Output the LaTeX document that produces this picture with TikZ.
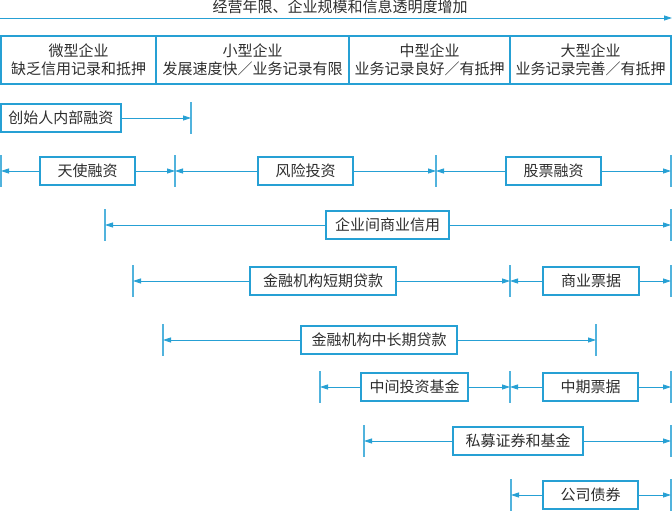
\documentclass[tikz,border=0pt]{standalone}
\usepackage{fontspec}
\setmainfont{Noto Sans CJK SC}
\usepackage{tikz}
\usetikzlibrary{positioning}
\usetikzlibrary{arrows.meta}
\definecolor{lineblue}{RGB}{38,160,212}
\definecolor{txtgray}{RGB}{45,45,45}
\tikzset{box/.style = {draw=lineblue, line width=1.4pt, minimum height=28pt,
                       inner sep=0pt, text=txtgray}}
\tikzset{stage/.style = {draw=lineblue, line width=1.4pt, minimum height=48pt,
                         inner sep=0pt, align=center, text=txtgray}}
\tikzset{rng/.style = {draw=lineblue, line width=0.8pt,
                       -{Triangle[length=8pt,width=5pt]}}}
\tikzset{tick/.style = {draw=lineblue!80, line width=1.1pt}}
\begin{document}
\begin{tikzpicture}[x=1pt, y=-1pt, font=\fontsize{15}{18}\selectfont]
  \useasboundingbox (0,0) rectangle (672,511);
  % headline
  \node[text=txtgray] (title) at (340,7) {经营年限、企业规模和信息透明度增加};
  \coordinate (t0) at (0,18);
  \coordinate (t1) at (672,18);
  \draw[rng] (t0) -- (t1);

  % enterprise stages
  \node[stage, minimum width=155pt] (micro) at (78.5,60)
    {微型企业\\缺乏信用记录和抵押};
  \node[stage, minimum width=193pt] (small) at (252.5,60)
    {小型企业\\发展速度快／业务记录有限};
  \node[stage, minimum width=161pt] (medium) at (429.5,60)
    {中型企业\\业务记录良好／有抵押};
  \node[stage, minimum width=161pt] (large) at (590.5,60)
    {大型企业\\业务记录完善／有抵押};

  % boxes
  \node[box, minimum width=120pt] (founder) at (61,118) {创始人内部融资};
  \node[box, minimum width=95pt] (angel) at (87.5,171) {天使融资};
  \node[box, minimum width=95pt] (venture) at (305.5,171) {风险投资};
  \node[box, minimum width=95pt] (equity) at (553.5,171) {股票融资};
  \node[box, minimum width=123pt] (trade) at (387.5,225) {企业间商业信用};
  \node[box, minimum width=146pt] (shortloan) at (323,281) {金融机构短期贷款};
  \node[box, minimum width=96pt] (commpaper) at (591,281) {商业票据};
  \node[box, minimum width=156pt] (longloan) at (379,340) {金融机构中长期贷款};
  \node[box, minimum width=107pt] (mezz) at (414.5,387) {中间投资基金};
  \node[box, minimum width=95pt] (mtn) at (590.5,387) {中期票据};
  \node[box, minimum width=130pt] (private) at (518,441) {私募证券和基金};
  \node[box, minimum width=95pt] (bonds) at (590.5,495) {公司债券};

  % range ends
  \coordinate (f1) at (191,118);
  \coordinate (a0) at (1,171);
  \coordinate (a1) at (175,171);
  \coordinate (a2) at (436,171);
  \coordinate (a3) at (671,171);
  \coordinate (c0) at (105,225);
  \coordinate (c1) at (671,225);
  \coordinate (s0) at (133,281);
  \coordinate (s1) at (510,281);
  \coordinate (s2) at (671,281);
  \coordinate (l0) at (163,340);
  \coordinate (l1) at (596,340);
  \coordinate (m0) at (320,387);
  \coordinate (m1) at (510,387);
  \coordinate (m2) at (671,387);
  \coordinate (p0) at (364,441);
  \coordinate (p1) at (671,441);
  \coordinate (b0) at (511,495);
  \coordinate (b1) at (671,495);

  \foreach \p in {f1,a0,a1,a2,a3,c0,c1,s0,s1,s2,l0,l1,m0,m1,m2,p0,p1,b0,b1}
    \draw[tick] ([yshift=16pt]\p) -- ([yshift=-16pt]\p);

  % arrows
  \draw[rng] (founder) -- (f1);
  \draw[rng] (angel) -- (a0);
  \draw[rng] (angel) -- (a1);
  \draw[rng] (venture) -- (a1);
  \draw[rng] (venture) -- (a2);
  \draw[rng] (equity) -- (a2);
  \draw[rng] (equity) -- (a3);
  \draw[rng] (trade) -- (c0);
  \draw[rng] (trade) -- (c1);
  \draw[rng] (shortloan) -- (s0);
  \draw[rng] (shortloan) -- (s1);
  \draw[rng] (commpaper) -- (s1);
  \draw[rng] (commpaper) -- (s2);
  \draw[rng] (longloan) -- (l0);
  \draw[rng] (longloan) -- (l1);
  \draw[rng] (mezz) -- (m0);
  \draw[rng] (mezz) -- (m1);
  \draw[rng] (mtn) -- (m1);
  \draw[rng] (mtn) -- (m2);
  \draw[rng] (private) -- (p0);
  \draw[rng] (private) -- (p1);
  \draw[rng] (bonds) -- (b0);
  \draw[rng] (bonds) -- (b1);
\end{tikzpicture}
\end{document}
